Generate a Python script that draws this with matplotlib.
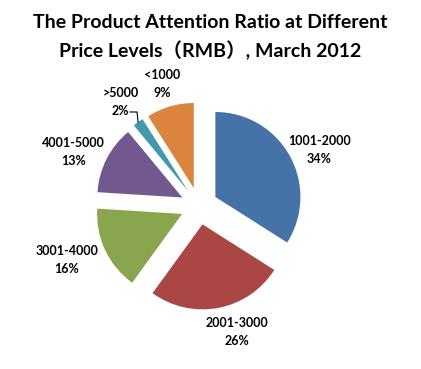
import matplotlib
matplotlib.use("Agg")
import matplotlib.pyplot as plt
import numpy as np

categories = ["1001-2000", "2001-3000", "3001-4000", "4001-5000", ">5000", "<1000"]
shares = [34, 26, 16, 13, 2, 9]
colors = ["#4572A7", "#AA4643", "#89A54E", "#71588F", "#4198AF", "#DB843D"]
title_lines = ["The Product Attention Ratio at Different",
               "Price Levels\uff08RMB\uff09, March 2012"]

W, H, DPI = 421, 369, 100
fig = plt.figure(figsize=(W / DPI, H / DPI), dpi=DPI)
ax = fig.add_axes([0, 0, 1, 1])

cx, cy, rpx = 199, 206, 85
explode = [0.22] * len(shares)
wedges, _ = ax.pie(shares, colors=colors, startangle=90, counterclock=False,
                   explode=explode, radius=1, center=(0, 0),
                   wedgeprops=dict(linewidth=0))

ax.set_xlim(-cx / rpx, (W - cx) / rpx)
ax.set_ylim(-(H - cy) / rpx, cy / rpx)
ax.set_aspect('auto')
ax.axis('off')

# label radial distance and angle tweak (degrees)
label_dist = [1.56, 1.55, 1.68, 1.61, 1.535, 1.50]
label_tweak = [-4, 6, -3, 3.8, 1, 0.5]
font = ['Lato', 'Noto Sans CJK SC', 'DejaVu Sans']
for w, cat, s, d, tw in zip(wedges, categories, shares, label_dist, label_tweak):
    mid = np.deg2rad((w.theta1 + w.theta2) / 2 + tw)
    ax.text(d * np.cos(mid), d * np.sin(mid), f"{cat}\n{s}%", ha='center', va='center',
            fontsize=9, fontweight='bold', family=font, linespacing=1.6)

# leader line for the small slice
w = wedges[4]
mid = np.deg2rad((w.theta1 + w.theta2) / 2)
cxw, cyw = w.center
p_end = (cxw + 1.0 * np.cos(mid), cyw + 1.0 * np.sin(mid))
ax.plot([-0.812, -0.729, p_end[0]], [1.106, 1.106, p_end[1]], color='black', lw=0.8)

fig.text(0.5, 1 - 28 / H, title_lines[0], ha='center', va='baseline', fontsize=14,
         fontweight='bold', family=font)
fig.text(0.5, 1 - 57 / H, title_lines[1], ha='center', va='baseline', fontsize=14,
         fontweight='bold', family=font)

fig.savefig("out.png", dpi=DPI)
